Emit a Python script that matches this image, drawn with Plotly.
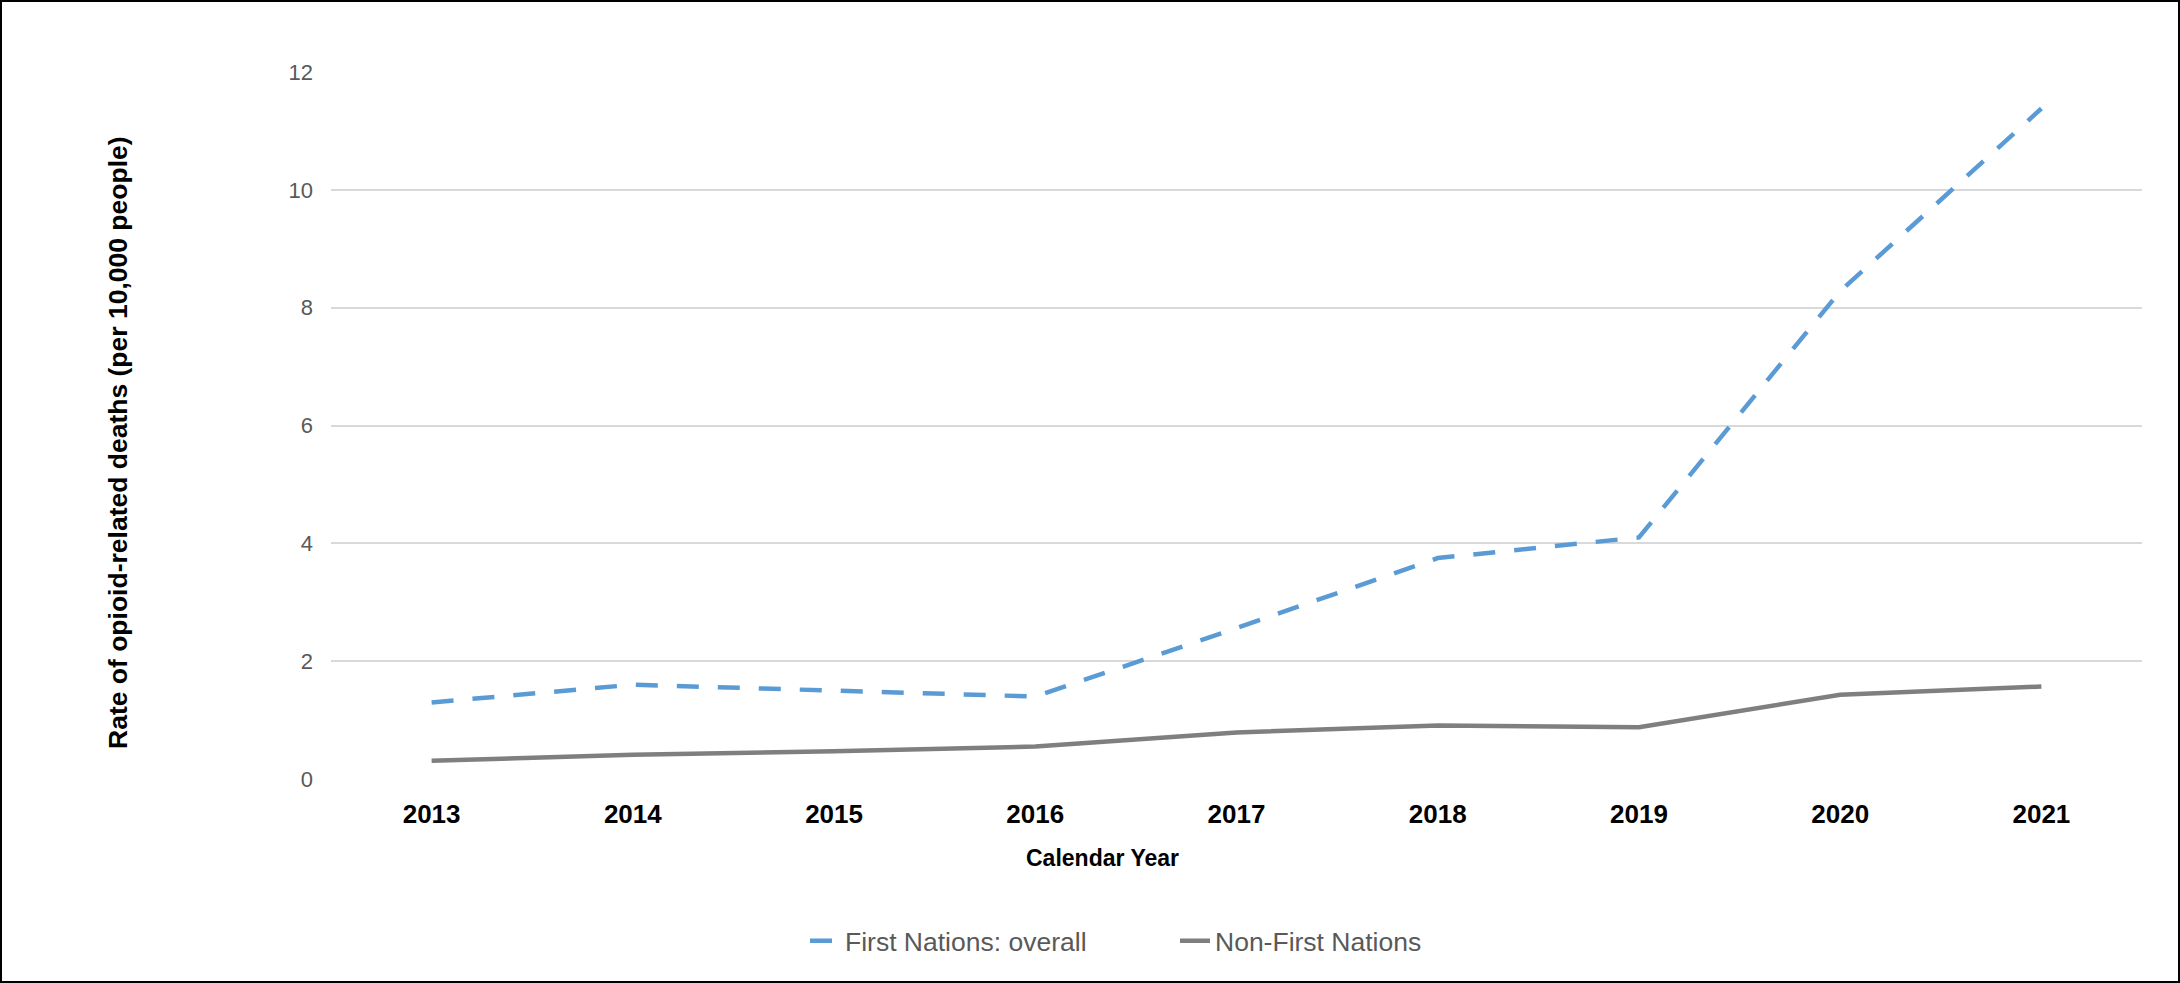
import plotly.graph_objects as go

years = ["2013", "2014", "2015", "2016", "2017", "2018", "2019", "2020", "2021"]
first_nations = [1.30, 1.60, 1.50, 1.40, 2.56, 3.75, 4.10, 8.28, 11.38]
non_first_nations = [0.31, 0.41, 0.47, 0.55, 0.79, 0.91, 0.88, 1.43, 1.57]
y_ticks = [0, 2, 4, 6, 8, 10, 12]

W, H = 2180, 983
L, R, T, B = 331, 38, 72, 204
pw, ph = W - L - R, H - T - B

fig = go.Figure()
fig.add_trace(go.Scatter(
    x=years, y=first_nations, mode="lines", name="First Nations: overall",
    line=dict(color="#5B9BD5", width=4.5, dash="22px,19px"),
))
fig.add_trace(go.Scatter(
    x=years, y=non_first_nations, mode="lines", name="Non-First Nations",
    line=dict(color="#7F7F7F", width=4.5),
))

fig.update_layout(
    width=W, height=H,
    margin=dict(l=L, r=R, t=T, b=B),
    paper_bgcolor="white", plot_bgcolor="white",
    font=dict(family="Liberation Sans, Arial, sans-serif", color="#595959"),
    showlegend=True,
    legend=dict(
        orientation="h", xref="paper", yref="paper",
        x=(805 - L) / pw, xanchor="left",
        y=-(941 - (T + ph)) / ph, yanchor="middle",
        font=dict(size=26.5, color="#595959"),
        entrywidth=325, entrywidthmode="pixels",
        bgcolor="rgba(0,0,0,0)",
    ),
    xaxis=dict(
        type="category", range=[-0.5, 8.5],
        showgrid=False, zeroline=False, showline=False, ticks="",
        tickfont=dict(size=26, color="black", weight="bold"),
        ticklabelstandoff=17,
    ),
    yaxis=dict(
        range=[0, 12], tickvals=y_ticks, ticktext=[str(v) for v in y_ticks],
        showgrid=True, gridcolor="#D9D9D9", gridwidth=1.5,
        zeroline=False, showline=False, ticks="",
        tickfont=dict(size=22, color="#595959"),
        ticklabelstandoff=17,
    ),
)

fig.add_annotation(
    text="<b>Rate of opioid-related deaths (per 10,000 people)</b>",
    xref="paper", yref="paper",
    x=(118 - L) / pw, y=(T + ph - 443) / ph,
    xanchor="center", yanchor="middle", textangle=-90, showarrow=False,
    font=dict(size=26.5, color="black"),
)
fig.add_annotation(
    text="<b>Calendar Year</b>",
    xref="paper", yref="paper",
    x=(1102 - L) / pw, y=-(858 - (T + ph)) / ph,
    xanchor="center", yanchor="middle", showarrow=False,
    font=dict(size=23, color="black"),
)

fig.add_shape(
    type="rect", xref="paper", yref="paper",
    x0=-(L - 1) / pw, x1=1 + (R - 1) / pw,
    y0=-(B - 1) / ph, y1=1 + (T - 1) / ph,
    line=dict(color="black", width=2), fillcolor="rgba(0,0,0,0)", layer="above",
)

fig.write_html(
    "out.html",
    config={"displayModeBar": False},
    post_script="document.body.style.margin='0';document.body.style.overflow='hidden';",
)
